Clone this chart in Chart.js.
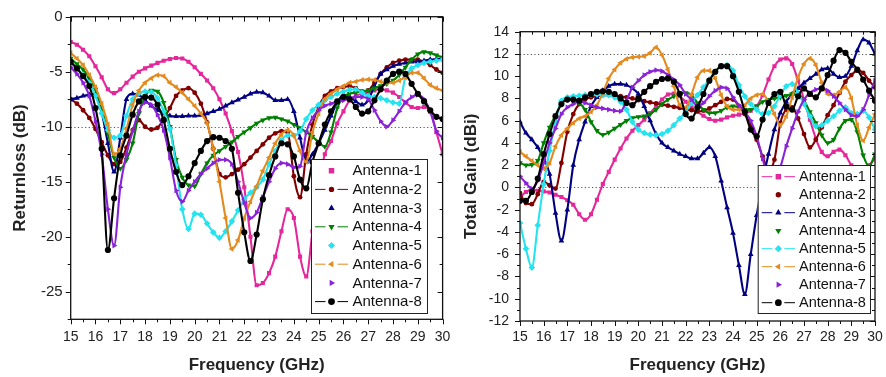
<!DOCTYPE html>
<html>
<head>
<meta charset="utf-8">
<script src="https://cdn.jsdelivr.net/npm/chart.js@4.4.1/dist/chart.umd.min.js"></script>
<style>
  body { margin: 0; background: #fff; width: 886px; height: 377px; overflow: hidden; position: relative; }
  canvas { position: absolute; top: 0; }
  #rl { left: 0; }
  #gain { left: 455px; }
</style>
</head>
<body>
<canvas id="rl" width="455" height="377"></canvas>
<canvas id="gain" width="431" height="377"></canvas>
<script>
// frequency samples (GHz)
const freq = [
  15, 15.25, 15.5, 15.75, 16, 16.25, 16.5, 16.75, 17, 17.25, 17.5, 17.75,
  18, 18.25, 18.5, 18.75, 19, 19.25, 19.5, 19.75, 20, 20.25, 20.5, 20.75,
  21, 21.25, 21.5, 21.75, 22, 22.25, 22.5, 22.75, 23, 23.25, 23.5, 23.75,
  24, 24.25, 24.5, 24.75, 25, 25.25, 25.5, 25.75, 26, 26.25, 26.5, 26.75,
  27, 27.25, 27.5, 27.75, 28, 28.25, 28.5, 28.75, 29, 29.25, 29.5, 29.75, 30
];
const names = ['Antenna-1', 'Antenna-2', 'Antenna-3', 'Antenna-4', 'Antenna-5', 'Antenna-6', 'Antenna-7', 'Antenna-8'];

// return loss (dB)
const rl1 = [-2.3, -2.55, -3.0, -3.6, -4.5, -5.5, -6.6, -6.95, -6.6, -6.0, -5.45, -5.0,
  -4.7, -4.45, -4.2, -4.0, -3.85, -3.75, -3.8, -4.1, -4.6, -5.2, -5.8, -6.5,
  -7.5, -8.8, -10.4, -12.3, -15.5, -20.0, -24.4, -24.2, -23.3, -21.8, -19.5, -17.5,
  -18.3, -21.8, -23.6, -19.5, -15.0, -12.5, -11.3, -9.7, -8.6, -7.6, -7.2, -7.0,
  -6.9, -6.7, -6.6, -6.7, -6.9, -7.3, -7.8, -8.2, -8.3, -8.2, -8.6, -10.5, -12.5];
const rl2 = [-7.5, -7.9, -8.5, -9.2, -10.2, -11.4, -12.6, -13.4, -13.2, -11.9, -10.3, -9.4,
  -10.0, -10.25, -10.1, -9.3, -8.3, -7.2, -6.7, -6.5, -6.9, -7.9, -9.6, -12.0,
  -14.3, -14.6, -14.3, -13.9, -13.4, -12.8, -12.2, -11.6, -11.0, -10.6, -10.4, -10.5,
  -14.5, -16.4, -12.5, -9.8, -8.2, -7.2, -6.8, -6.5, -6.4, -6.3, -6.5, -6.8,
  -6.7, -6.0, -5.2, -4.6, -4.2, -4.0, -3.9, -3.9, -3.9, -4.1, -4.4, -4.8, -5.1];
const rl3 = [-7.5, -7.4, -7.2, -7.1, -7.0, -8.7, -11.5, -14.1, -11.0, -7.5, -7.0, -7.1,
  -7.6, -8.1, -8.5, -8.8, -9.0, -9.05, -9.05, -9.0, -9.0, -8.95, -8.8, -8.6,
  -8.4, -8.1, -7.8, -7.55, -7.3, -7.0, -6.85, -6.9, -7.2, -7.6, -7.6, -7.5,
  -8.6, -11.0, -13.2, -12.5, -11.5, -10.3, -9.0, -7.8, -7.1, -7.3, -7.7, -8.0,
  -7.6, -6.3, -5.2, -4.8, -4.5, -4.3, -4.2, -4.1, -4.1, -4.0, -3.9, -3.85, -3.8];
const rl4 = [-3.8, -4.3, -4.8, -5.6, -6.6, -8.3, -10.6, -12.8, -13.8, -13.0, -11.5, -8.8,
  -7.2, -6.7, -6.8, -7.8, -10.0, -13.0, -14.6, -15.3, -15.4, -14.3, -13.3, -12.6,
  -12.2, -11.8, -11.4, -10.9, -10.5, -10.1, -9.7, -9.4, -9.2, -9.15, -9.3, -9.5,
  -9.8, -10.1, -10.5, -10.9, -11.4, -11.8, -10.5, -8.3, -7.3, -7.0, -6.9, -6.8,
  -6.7, -6.5, -6.3, -6.1, -5.8, -5.3, -4.6, -3.9, -3.4, -3.2, -3.3, -3.5, -3.7];
const rl5 = [-4.2, -4.7, -5.3, -6.0, -7.2, -8.8, -10.3, -11.0, -10.8, -9.0, -7.5, -6.95,
  -6.8, -6.85, -7.4, -8.6, -10.2, -13.5, -17.5, -19.3, -17.9, -18.0, -18.8, -19.6,
  -20.1, -19.5, -18.6, -17.6, -16.6, -16.0, -15.5, -14.8, -13.4, -12.2, -11.2, -10.8,
  -10.8, -10.4, -9.3, -8.5, -8.0, -7.6, -7.3, -7.0, -6.8, -6.65, -6.6, -6.9,
  -7.2, -7.3, -7.4, -7.6, -7.8, -7.9, -5.5, -4.7, -4.4, -4.2, -4.1, -4.0, -3.9];
const rl6 = [-3.3, -3.8, -4.4, -5.3, -6.4, -7.9, -9.8, -12.5, -12.0, -10.2, -8.0, -6.7,
  -6.0, -5.6, -5.3, -5.4, -6.0, -6.4, -6.9, -7.5, -8.1, -8.8, -9.7, -12.0,
  -15.0, -18.3, -21.1, -20.3, -18.3, -16.8, -15.4, -14.0, -12.8, -11.5, -10.7, -10.3,
  -10.8, -12.2, -13.2, -10.5, -8.8, -7.5, -7.0, -6.6, -6.3, -6.0, -5.9, -5.75,
  -5.7, -5.75, -5.9, -6.0, -6.0, -5.8, -5.5, -5.1, -5.1, -5.6, -6.2, -6.5, -6.7];
const rl7 = [-4.6, -5.2, -6.0, -7.2, -9.5, -12.5, -17.5, -20.8, -15.5, -12.5, -10.4, -8.6,
  -7.8, -8.0, -8.9, -10.3, -12.8, -15.8, -16.8, -15.8, -15.0, -14.3, -13.8, -13.3,
  -13.0, -13.0, -13.4, -15.0, -16.9, -18.3, -17.8, -16.4, -15.0, -13.8, -13.3, -13.4,
  -13.7, -13.6, -10.5, -9.2, -8.5, -8.1, -7.9, -7.7, -7.6, -7.4, -7.3, -7.3,
  -7.5, -8.5, -9.5, -10.0, -9.4, -8.6, -7.8, -7.3, -7.1, -7.5, -8.6, -10.4, -11.0];
const rl8 = [-4.1, -4.7, -5.4, -6.3, -8.3, -12.0, -21.2, -16.5, -12.6, -10.8, -8.9, -7.7,
  -7.3, -7.35, -8.0, -9.4, -12.0, -14.1, -15.3, -14.5, -13.3, -12.2, -11.3, -10.95,
  -11.0, -11.3, -12.0, -16.0, -19.6, -22.2, -19.8, -16.6, -14.4, -12.7, -11.5, -11.6,
  -12.7, -14.8, -15.6, -13.2, -11.5, -9.8, -8.6, -7.7, -7.3, -7.5, -8.2, -8.8,
  -8.6, -7.6, -6.6, -5.8, -5.2, -5.0, -5.2, -6.1, -7.0, -7.7, -8.5, -9.1, -9.3];

// total gain (dBi)
const g1 = [-0.9, -0.4, -0.2, -0.3, -0.35, -0.45, -0.65, -0.85, -1.15, -1.55, -2.4, -2.9,
  -2.4, -1.1, 0.3, 1.4, 2.5, 3.5, 4.4, 5.1, 5.6, 6.1, 6.7, 7.3,
  7.9, 8.35, 8.45, 8.2, 7.7, 7.2, 6.8, 6.45, 6.15, 6.0, 6.1, 6.3,
  6.45, 6.55, 6.65, 6.9, 7.3, 8.3, 9.7, 10.9, 11.5, 11.6, 11.1, 9.6,
  7.9, 6.1, 4.4, 3.2, 2.8, 3.2, 3.4, 2.9, 2.0, 1.3, 1.4, 2.0, 2.6];
const g2 = [-0.5, -1.4, -1.5, -0.6, 0.5, 0.2, -0.1, 2.2, 5.0, 6.6, 7.5, 7.9,
  8.1, 8.2, 8.3, 8.3, 8.25, 8.2, 8.1, 8.0, 7.85, 7.75, 7.65, 7.55,
  7.45, 7.35, 7.25, 7.15, 7.0, 6.95, 6.85, 6.9, 7.1, 7.4, 7.7, 7.95,
  7.9, 7.3, 6.6, 5.6, 4.3, 2.8, 1.6, 2.5, 5.8, 7.0, 7.2, 6.2,
  4.8, 3.6, 4.3, 5.4, 6.5, 7.4, 8.5, 9.5, 10.1, 10.5, 10.3, 9.6, 9.0];
const g3 = [5.9, 4.9, 4.3, 3.6, 2.6, 1.2, -2.3, -4.8, -2.0, 2.0, 4.3, 5.9,
  7.3, 8.1, 8.7, 9.1, 9.3, 9.3, 9.2, 8.9, 8.4, 7.3, 6.0, 4.8,
  4.0, 3.6, 3.3, 3.0, 2.8, 2.6, 2.6, 3.1, 3.6, 2.8, 0.6, -1.8,
  -4.1, -7.0, -9.6, -6.0, -2.5, 0.5, 3.0, 5.2, 6.7, 7.7, 8.4, 8.9,
  9.4, 9.8, 10.2, 10.6, 10.7, 10.2, 9.9, 10.0, 10.9, 12.3, 13.3, 13.0, 12.0];
const g4 = [2.2, 2.0, 2.05, 2.4, 4.0, 5.4, 6.5, 7.5, 7.9, 7.9, 7.6, 7.0,
  5.9, 5.1, 4.75, 4.95, 5.3, 5.65, 6.0, 6.25, 6.35, 6.4, 6.6, 7.0,
  7.5, 7.9, 8.2, 8.5, 8.5, 8.3, 7.6, 7.0, 6.7, 6.7, 6.9, 7.2,
  7.3, 7.2, 7.0, 7.0, 7.3, 7.7, 7.9, 8.0, 8.1, 8.25, 8.4, 8.4,
  7.8, 6.8, 5.8, 4.7, 4.0, 4.3, 5.3, 6.0, 6.1, 5.0, 2.9, 1.9, 3.0];
const g5 = [-3.2, -5.5, -7.2, -3.4, 0.3, 3.3, 5.9, 7.8, 8.1, 8.2, 8.25, 8.3,
  8.35, 8.35, 8.3, 8.3, 8.1, 7.7, 7.0, 5.9, 5.2, 4.9, 4.75, 4.7,
  4.8, 5.1, 5.6, 6.2, 6.8, 7.6, 8.3, 9.0, 9.7, 10.4, 10.9, 11.0,
  10.5, 9.2, 8.2, 7.5, 7.0, 6.6, 6.7, 7.3, 8.3, 9.1, 9.3, 8.5,
  7.5, 6.4, 5.5, 5.6, 6.0, 6.4, 6.9, 7.2, 6.7, 6.6, 6.9, 6.3, 5.2];
const g6 = [3.2, 2.8, 2.4, 2.0, 1.7, 2.2, 3.7, 4.7, 5.3, 5.8, 6.2, 6.4,
  6.8, 7.4, 8.5, 9.8, 10.6, 11.2, 11.55, 11.7, 11.75, 11.8, 12.1, 12.6,
  11.9, 10.6, 9.1, 7.4, 7.2, 8.4, 9.9, 10.5, 10.5, 9.8, 8.3, 7.3,
  7.0, 7.0, 7.4, 8.0, 8.3, 8.4, 7.7, 6.6, 5.6, 6.4, 8.1, 9.9,
  11.1, 11.6, 11.0, 9.4, 8.4, 8.3, 8.6, 9.0, 8.0, 5.6, 4.2, 5.4, 6.6];
const g7 = [1.0, 0.4, -0.1, 0.6, 2.2, 4.0, 5.3, 6.6, 7.2, 7.5, 7.7, 7.6,
  7.4, 7.2, 7.1, 7.0, 6.9, 6.85, 7.8, 9.0, 9.6, 10.1, 10.4, 10.55,
  10.45, 10.1, 9.7, 9.2, 8.4, 7.9, 7.3, 7.6, 8.2, 8.7, 9.0, 8.9,
  8.1, 7.4, 6.8, 6.0, 4.6, 2.6, 0.8, 0.5, 1.8, 3.7, 5.3, 6.8,
  7.9, 8.5, 8.8, 8.9, 8.7, 8.2, 7.6, 7.0, 6.5, 6.4, 7.0, 8.3, 9.6];
const g8 = [-1.2, -1.2, -0.4, 0.8, 3.0, 4.8, 6.4, 7.5, 7.9, 7.9, 7.8, 8.1,
  8.4, 8.6, 8.65, 8.6, 8.4, 8.0, 7.6, 7.4, 8.0, 8.6, 9.1, 9.5,
  9.75, 9.8, 9.5, 8.4, 6.6, 6.2, 7.2, 8.4, 9.6, 10.4, 10.9, 10.9,
  10.0, 8.6, 6.8, 5.2, 4.6, 6.1, 7.6, 8.4, 8.6, 7.3, 7.0, 8.2,
  8.9, 8.4, 8.1, 8.9, 10.1, 11.4, 12.35, 12.1, 11.3, 10.6, 9.7, 8.7, 7.8];

// axis ticks
const freqTicks = [15, 16, 17, 18, 19, 20, 21, 22, 23, 24, 25, 26, 27, 28, 29, 30];
const rlTicks = [0, -5, -10, -15, -20, -25];
const gainTicks = [14, 12, 10, 8, 6, 4, 2, 0, -2, -4, -6, -8, -10, -12];

const colors = ['#e4279a', '#800000', '#000080', '#008000', '#25e3ef', '#e38b1f', '#8a22d8', '#000000'];
const marks = [
  { style: 'rect', rot: 0, r: 2.9 },
  { style: 'circle', rot: 0, r: 2.4 },
  { style: 'triangle', rot: 0, r: 3.3 },
  { style: 'triangle', rot: 180, r: 3.3 },
  { style: 'rectRot', rot: 0, r: 3.3 },
  { style: 'triangle', rot: 270, r: 3.3 },
  { style: 'triangle', rot: 90, r: 3.3 },
  { style: 'circle', rot: 0, r: 3.1 }
];

const FONT = '"Liberation Sans", Arial, sans-serif';

function makeSets(series) {
  return series.map((vals, i) => ({
    label: names[i],
    data: vals.map((v, k) => ({ x: freq[k], y: v })),
    borderColor: colors[i],
    backgroundColor: colors[i],
    borderWidth: 2.1,
    pointStyle: marks[i].style,
    pointRotation: marks[i].rot,
    pointRadius: marks[i].r,
    pointBorderWidth: 0,
    cubicInterpolationMode: 'monotone',
    order: 7 - i
  }));
}

function drawMarker(ctx, m, x, y, color) {
  ctx.save();
  ctx.translate(x, y);
  ctx.rotate(m.rot * Math.PI / 180);
  ctx.fillStyle = color;
  ctx.beginPath();
  const r = m.r + 0.3;
  if (m.style === 'circle') {
    ctx.arc(0, 0, r, 0, Math.PI * 2);
  } else if (m.style === 'rect') {
    const s = r * 0.85;
    ctx.rect(-s, -s, 2 * s, 2 * s);
  } else if (m.style === 'rectRot') {
    ctx.moveTo(0, -r); ctx.lineTo(r, 0); ctx.lineTo(0, r); ctx.lineTo(-r, 0); ctx.closePath();
  } else {
    ctx.moveTo(0, -r); ctx.lineTo(r * 0.87, r * 0.5); ctx.lineTo(-r * 0.87, r * 0.5); ctx.closePath();
  }
  ctx.fill();
  ctx.restore();
}

// frame, mirrored ticks, reference lines and the boxed legend
const framePlugin = {
  id: 'frame',
  beforeDatasetsDraw(chart, args, opts) {
    const { ctx, chartArea: a, scales: { y } } = chart;
    ctx.save();
    ctx.strokeStyle = '#555';
    ctx.lineWidth = 1;
    ctx.setLineDash([1.2, 2.4]);
    opts.refLines.forEach(v => {
      const py = Math.round(y.getPixelForValue(v)) + 0.5;
      ctx.beginPath(); ctx.moveTo(a.left, py); ctx.lineTo(a.right, py); ctx.stroke();
    });
    ctx.restore();
  },
  afterDraw(chart, args, opts) {
    const { ctx, chartArea: a, scales: { x, y } } = chart;
    ctx.save();
    ctx.strokeStyle = '#111';
    ctx.lineWidth = 1.3;
    ctx.strokeRect(a.left, a.top, a.right - a.left, a.bottom - a.top);

    ctx.lineWidth = 1;
    const xt = freqTicks;
    for (let i = 0; i < xt.length; i++) {
      const vals = [[xt[i], 5]];
      if (i < xt.length - 1) vals.push([(xt[i] + xt[i + 1]) / 2, 3]);
      vals.forEach(([v, len]) => {
        const px = Math.round(x.getPixelForValue(v)) + 0.5;
        ctx.beginPath();
        ctx.moveTo(px, a.bottom); ctx.lineTo(px, a.bottom + len);
        ctx.moveTo(px, a.top); ctx.lineTo(px, a.top + len);
        ctx.stroke();
      });
    }
    const yt = opts.yTicks;
    for (let i = 0; i < yt.length; i++) {
      const vals = [[yt[i], 5]];
      if (i < yt.length - 1) vals.push([(yt[i] + yt[i + 1]) / 2, 3]);
      else if (opts.yExtraMinor !== undefined) vals.push([opts.yExtraMinor, 3]);
      vals.forEach(([v, len]) => {
        const py = Math.round(y.getPixelForValue(v)) + 0.5;
        ctx.beginPath();
        ctx.moveTo(a.left, py); ctx.lineTo(a.left - len, py);
        ctx.moveTo(a.right, py); ctx.lineTo(a.right - len, py);
        ctx.stroke();
      });
    }

    const lg = opts.legend;
    ctx.fillStyle = '#fff';
    ctx.fillRect(lg.x, lg.y, lg.w, lg.h);
    ctx.strokeStyle = '#222';
    ctx.lineWidth = 1;
    ctx.strokeRect(lg.x + 0.5, lg.y + 0.5, lg.w, lg.h);
    ctx.font = lg.font;
    ctx.textBaseline = 'middle';
    chart.data.datasets.forEach((ds, i) => {
      const cy = lg.row0 + i * lg.rowH;
      const cx = (lg.x0 + lg.x1) / 2;
      if (lg.lines[i]) {
        ctx.strokeStyle = ds.borderColor;
        ctx.lineWidth = 1;
        ctx.beginPath();
        ctx.moveTo(lg.x0, cy); ctx.lineTo(cx - 6, cy);
        ctx.moveTo(cx + 6, cy); ctx.lineTo(lg.x1, cy);
        ctx.stroke();
      }
      drawMarker(ctx, marks[i], cx, cy, ds.backgroundColor);
      ctx.fillStyle = '#111';
      ctx.fillText(ds.label, lg.tx, cy + 0.5);
    });
    ctx.restore();
  }
};

function makeChart(id, series, cfg) {
  return new Chart(document.getElementById(id), {
    type: 'line',
    data: { datasets: makeSets(series) },
    options: {
      responsive: false,
      animation: false,
      events: [],
      layout: { padding: cfg.padding },
      scales: {
        x: {
          type: 'linear',
          min: 15,
          max: 30,
          afterBuildTicks: s => { s.ticks = freqTicks.map(v => ({ value: v })); },
          afterFit: s => { s.height = cfg.xHeight; },
          grid: { display: false, drawTicks: true, tickLength: 5 },
          border: { display: false },
          ticks: { autoSkip: false, maxRotation: 0, padding: cfg.xPad, color: '#222',
                   font: { family: FONT, size: 14 }, callback: v => String(v) },
          title: { display: true, text: 'Frequency (GHz)', color: '#222', padding: { top: 0, bottom: 0 },
                   font: { family: FONT, size: 17, weight: 'bold' } }
        },
        y: {
          min: cfg.yMin,
          max: cfg.yMax,
          afterBuildTicks: s => { s.ticks = cfg.yTicks.map(v => ({ value: v })); },
          afterFit: s => { s.width = cfg.yWidth; },
          grid: { display: false, drawTicks: true, tickLength: 5 },
          border: { display: false },
          ticks: { padding: cfg.yPad, color: '#222', font: { family: FONT, size: cfg.yFont }, callback: v => String(v) },
          title: { display: true, text: cfg.yTitle, color: '#222', padding: { top: cfg.yTitlePad, bottom: 0 },
                   font: { family: FONT, size: 17, weight: 'bold' } }
        }
      },
      plugins: {
        legend: { display: false },
        tooltip: { enabled: false },
        frame: { refLines: cfg.refLines, yTicks: cfg.yTicks, yExtraMinor: cfg.yExtraMinor, legend: cfg.legend }
      }
    },
    plugins: [framePlugin]
  });
}

makeChart('rl', [rl1, rl2, rl3, rl4, rl5, rl6, rl7, rl8], {
  padding: { left: 0, top: 16.7, right: 8.3, bottom: 1.8 },
  xHeight: 55.9, yWidth: 70.7, xPad: 4.6, yPad: 3, yFont: 15,
  yMin: -27.5, yMax: 0, yTicks: rlTicks, yExtraMinor: -27.5,
  yTitle: 'Returnloss (dB)', yTitlePad: 9.8,
  refLines: [-10],
  legend: {
    x: 311, y: 159, w: 116, h: 154, row0: 170.7, rowH: 18.7,
    x0: 315, x1: 348, tx: 352.5, font: '15px ' + FONT,
    lines: [false, true, false, true, false, true, false, true]
  }
});

makeChart('gain', [g1, g2, g3, g4, g5, g6, g7, g8], {
  padding: { left: 0, top: 31.7, right: 11, bottom: 1.8 },
  xHeight: 54.2, yWidth: 65, xPad: 3, yPad: 6, yFont: 14,
  yMin: -12, yMax: 14, yTicks: gainTicks,
  yTitle: 'Total Gain (dBi)', yTitlePad: 6.5,
  refLines: [12, 0],
  legend: {
    x: 302.7, y: 165, w: 112.3, h: 148, row0: 176.7, rowH: 18,
    x0: 306.7, x1: 340, tx: 344, font: '14.5px ' + FONT,
    lines: [true, false, true, false, true, true, false, true]
  }
});
</script>
</body>
</html>
